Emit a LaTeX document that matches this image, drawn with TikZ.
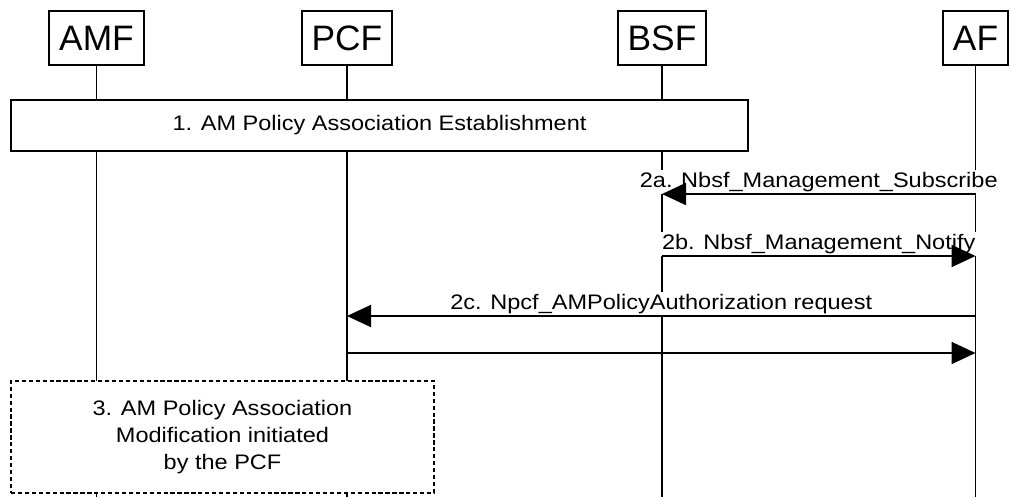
\documentclass[tikz,border=0pt]{standalone}
\usepackage{fontspec}
\setmainfont{Liberation Sans}
\newfontfamily\msgfont[FakeStretch=1.12]{Liberation Sans}
\usetikzlibrary{arrows.meta}

\begin{document}
\begin{tikzpicture}[x=0.75pt,y=-0.75pt,
    entity/.style={draw,line width=1.4pt,fill=white,inner xsep=7.5pt,inner ysep=0pt,
        minimum height=40.5pt,font=\fontsize{26.5}{30}\selectfont},
    lifeline/.style={line width=1.4pt},
    procbox/.style={draw,line width=1.4pt,fill=white,align=center,
        font=\msgfont\fontsize{15.75}{20.25}\selectfont},
    msg/.style={line width=1.4pt,-{Triangle[length=18pt,width=16.5pt]}},
    msglabel/.style={above,fill=white,inner sep=1.5pt,
        font=\msgfont\fontsize{15.75}{19}\selectfont}]
    \useasboundingbox (0,0) rectangle (1011,497);
    % network functions
    \node[entity] (amf) at (96.5,38) {AMF};
    \node[entity] (pcf) at (347,38) {PCF};
    \node[entity] (bsf) at (662,38) {BSF};
    \node[entity] (af) at (975.5,38) {AF};
    \foreach \nf in {amf,pcf,bsf,af}
        \draw[lifeline] (\nf.south) -- (\nf |- 0,497);
    % step 1
    \node[procbox,minimum width=552.75pt,minimum height=38.25pt] (est) at (379.5,125.5)
        {1. AM Policy Association Establishment};
    % step 3
    \node[procbox,dashed,dash pattern=on 3.2pt off 2pt,minimum width=317.25pt,minimum height=84pt]
        (mod) at (222.5,437)
        {3. AM Policy Association\\Modification initiated\\by the PCF};
    % messages
    \path (af |- 0,194) -- (bsf |- 0,194) node[msglabel,midway] (l2a) {2a. Nbsf\_Management\_Subscribe};
    \draw[msg] (af |- 0,194) -- (bsf |- 0,194);
    \path (bsf |- 0,256) -- (af |- 0,256) node[msglabel,midway] (l2b) {2b. Nbsf\_Management\_Notify};
    \draw[msg] (bsf |- 0,256) -- (af |- 0,256);
    \path (af |- 0,316) -- (pcf |- 0,316) node[msglabel,midway] (l2c) {2c. Npcf\_AMPolicyAuthorization request};
    \draw[msg] (af |- 0,316) -- (pcf |- 0,316);
    \draw[msg] (pcf |- 0,353) -- (af |- 0,353);
\end{tikzpicture}
\end{document}
